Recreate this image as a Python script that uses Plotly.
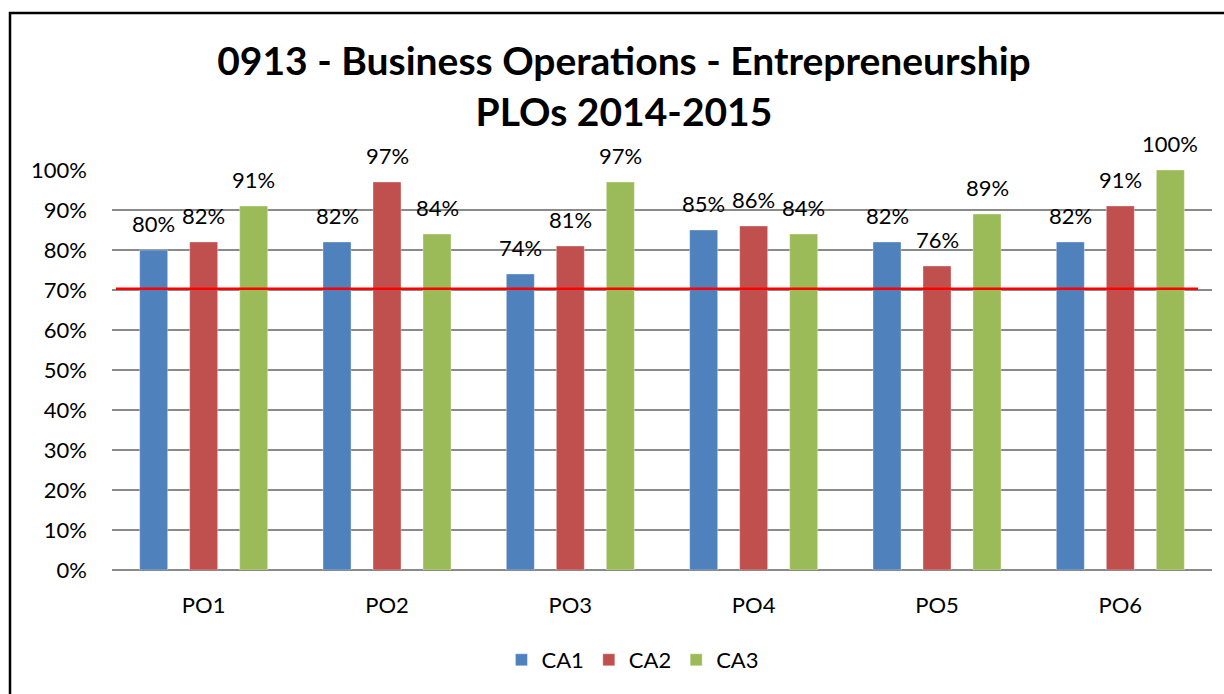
import plotly.graph_objects as go

categories = ["PO1", "PO2", "PO3", "PO4", "PO5", "PO6"]
series_names = ["CA1", "CA2", "CA3"]
ca1 = [0.80, 0.82, 0.74, 0.85, 0.82, 0.82]
ca2 = [0.82, 0.97, 0.81, 0.86, 0.76, 0.91]
ca3 = [0.91, 0.84, 0.97, 0.84, 0.89, 1.00]
threshold = 0.703
y_ticks = [i / 10 for i in range(11)]

colors = ["#4F81BD", "#C0504D", "#9BBB59"]
FONT = "Lato"
W, H = 1224, 694
L, R, T, B = 112, 12, 170, 124
plot_w = W - L - R
plot_h = H - T - B
cat_px = plot_w / len(categories)
bar_w_px = 28
step_px = 50

fig = go.Figure()
for i, (name, vals) in enumerate(zip(series_names, [ca1, ca2, ca3])):
    center_shift = (i - 1) * step_px
    offset = (center_shift - bar_w_px / 2) / cat_px
    fig.add_trace(go.Bar(
        x=categories, y=vals, name=name,
        width=bar_w_px / cat_px, offset=offset,
        marker=dict(color=colors[i], line=dict(color="rgba(255,255,255,0.35)", width=1)),
        hoverinfo="x+y",
    ))
    for c, v in zip(categories, vals):
        fig.add_annotation(
            x=c, y=v, xref="x", yref="y", text=f"{round(v*100)}%",
            showarrow=False, xshift=center_shift, yshift=11, yanchor="bottom",
            font=dict(family=FONT, size=22, color="black"),
        )

# threshold line
fig.add_shape(type="line", xref="paper", yref="y",
              x0=4 / plot_w, x1=(1198 - L) / plot_w, y0=threshold, y1=threshold,
              line=dict(color="#FF0000", width=2.5))

# outer frame
fig.add_shape(type="rect", xref="paper", yref="paper",
              x0=(10 - L) / plot_w, x1=(1240 - L) / plot_w,
              y0=-(710 - (H - B)) / plot_h, y1=((H - B) - 13) / plot_h,
              line=dict(color="black", width=2.5), layer="below")

fig.update_layout(
    width=W, height=H,
    margin=dict(l=L, r=R, t=T, b=B, pad=0),
    paper_bgcolor="white", plot_bgcolor="white",
    font=dict(family=FONT, size=22, color="black"),
    title=dict(
        text="<b>0913 - Business Operations - Entrepreneurship<br>PLOs 2014-2015</b>",
        x=(624 - L) / plot_w, xref="paper", xanchor="center",
        y=(H - 75) / H, yref="container", yanchor="middle",
        font=dict(family=FONT, size=39, color="black"),
    ),
    barmode="group",
    showlegend=True,
    legend=dict(orientation="h", x=0.4736, xanchor="center",
                y=-(660 - (H - B)) / plot_h, yanchor="middle",
                font=dict(family=FONT, size=22), itemwidth=30, traceorder="normal"),
    xaxis=dict(showgrid=False, showline=False, ticks="", ticklabelstandoff=20,
               tickfont=dict(family=FONT, size=22)),
    yaxis=dict(range=[0, 1], tickvals=y_ticks, tickformat=".0%", showgrid=True,
               gridcolor="#8A8A8A", gridwidth=1.5, zeroline=True, zerolinecolor="#8A8A8A",
               zerolinewidth=2, showline=False, ticks="", ticklabelstandoff=24,
               tickfont=dict(family=FONT, size=22)),
)

fig.write_html(
    "out.html",
    config={"displayModeBar": False},
    post_script="document.body.style.margin='0';document.body.style.overflow='hidden';",
)
